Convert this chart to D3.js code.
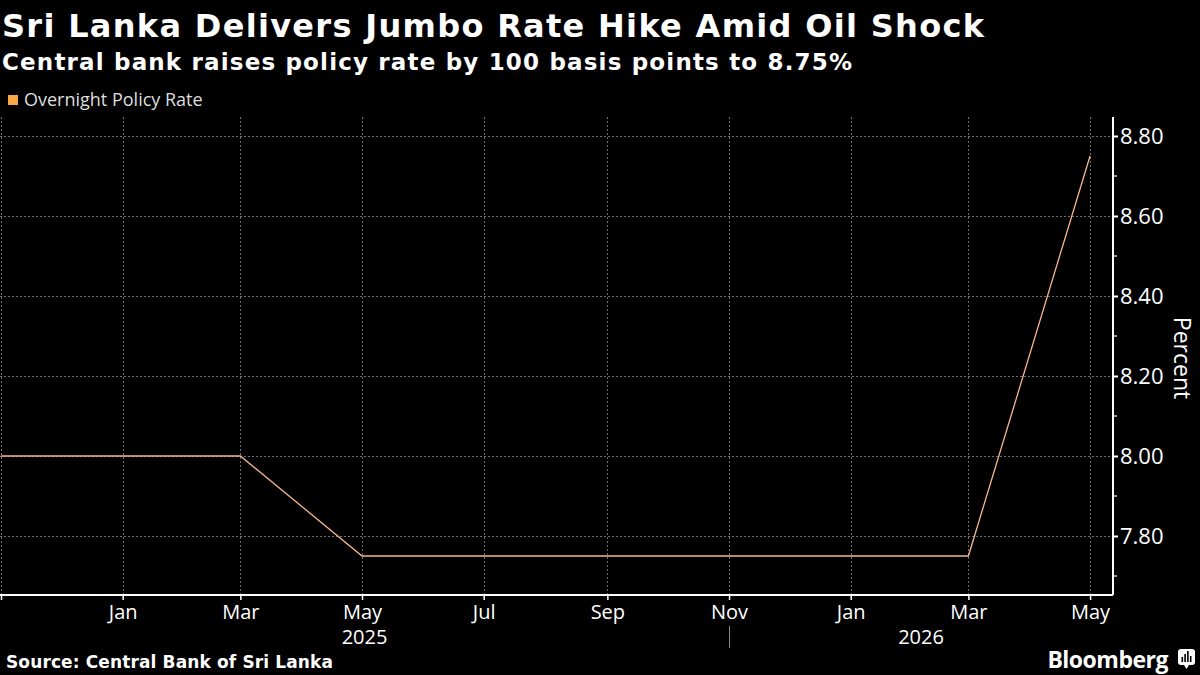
<!DOCTYPE html>
<html>
<head>
<meta charset="utf-8">
<script src="https://cdn.jsdelivr.net/npm/d3@7"></script>
<style>
  body { margin: 0; background: #000; }
  svg { display: block; }
</style>
</head>
<body>
<div id="chart"></div>
<script>
// data
const dates = ["2024-11-01", "2025-01-01", "2025-03-01", "2025-05-01", "2025-07-01",
  "2025-09-01", "2025-11-01", "2026-01-01", "2026-03-01", "2026-05-01"]
const rate = [8.00, 8.00, 8.00, 7.75, 7.75, 7.75, 7.75, 7.75, 7.75, 8.75]
const yMajor = [7.80, 8.00, 8.20, 8.40, 8.60, 8.80]
const yMinor = [7.70, 7.90, 8.10, 8.30, 8.50, 8.70]
const monthTicks = ["2024-11-01", "2025-01-01", "2025-03-01", "2025-05-01", "2025-07-01",
  "2025-09-01", "2025-11-01", "2026-01-01", "2026-03-01", "2026-05-01"]
const years = ["2025", "2026"]
const yearBreak = "2025-11-01"

const W = 1200, H = 675
const pLeft = 1, pRight = 1113, pTop = 117, pBottom = 595
const parse = d3.timeParse("%Y-%m-%d")
const font = "'Open Sans', 'Noto Sans', sans-serif"
const boldFont = "'DejaVu Sans', 'Open Sans', sans-serif"

let svg = d3.select("#chart").append("svg")
  .attr("width", W).attr("height", H)
  .style("background", "#000")

let x = d3.scaleTime()
  .domain([parse("2024-11-01"), new Date(2026, 4, 12, 12)])
  .range([pLeft, pRight])

let y = d3.scaleLinear()
  .domain([7.6525, 8.8475])
  .range([pBottom, pTop])

// grid
let grid = svg.append("g")
  .attr("stroke", "#707070").attr("stroke-width", 1).attr("stroke-dasharray", "2,2")
grid.selectAll(".gy").data(yMajor).enter().append("line")
  .attr("x1", 0).attr("x2", pRight)
  .attr("y1", d => Math.round(y(d)) + 0.5).attr("y2", d => Math.round(y(d)) + 0.5)
grid.selectAll(".gx").data(monthTicks.map(parse)).enter().append("line")
  .attr("y1", pTop).attr("y2", pBottom)
  .attr("x1", d => Math.round(x(d)) + 0.5).attr("x2", d => Math.round(x(d)) + 0.5)

// line
let line = d3.line()
  .x((d, i) => x(parse(dates[i])))
  .y(d => y(d))

svg.append("path")
  .datum(rate)
  .attr("d", line)
  .attr("fill", "none")
  .attr("stroke", "#f6b78e")
  .attr("stroke-width", 1.3)

// x axis
let xAxis = d3.axisBottom(x)
  .tickValues(monthTicks.map(parse))
  .tickSize(5)
  .tickFormat((d, i) => i == 0 ? "" : d3.timeFormat("%b")(d))

let gx = svg.append("g")
  .attr("transform", "translate(0," + pBottom + ")")
  .call(xAxis)
gx.select(".domain").attr("d", "M0,0H" + pRight).attr("stroke", "#fff").attr("stroke-width", 2)
gx.selectAll(".tick line").attr("stroke", "#fff").attr("stroke-width", 1.5)
gx.selectAll(".tick text")
  .attr("fill", "#fff").attr("dy", 0).attr("y", 24)
  .style("font-family", font).style("font-size", "20px")

// year labels and separator
let sep = x(parse(yearBreak))
svg.append("line")
  .attr("x1", sep + 0.5).attr("x2", sep + 0.5)
  .attr("y1", 626).attr("y2", 648)
  .attr("stroke", "#888").attr("stroke-width", 1)
let yearCenters = [(0 + sep) / 2, (sep + pRight) / 2]
svg.selectAll(".year").data(years).enter().append("text")
  .attr("x", (d, i) => yearCenters[i])
  .attr("y", 644)
  .attr("text-anchor", "middle")
  .attr("fill", "#fff")
  .style("font-family", font).style("font-size", "20px")
  .text(d => d)

// y axis
let yAxis = d3.axisRight(y)
  .tickValues(yMajor)
  .tickSize(5)
  .tickFormat(d3.format(".2f"))

let gy = svg.append("g")
  .attr("transform", "translate(" + pRight + ",0)")
  .call(yAxis)
gy.select(".domain").attr("d", "M0," + pTop + "V" + pBottom).attr("stroke", "#fff").attr("stroke-width", 2)
gy.selectAll(".tick line").attr("stroke", "#fff").attr("stroke-width", 2)
gy.selectAll(".tick text")
  .attr("fill", "#fff").attr("x", 7)
  .style("font-family", font).style("font-size", "22px")

gy.selectAll(".minor").data(yMinor).enter().append("line")
  .attr("x1", 0).attr("x2", 4)
  .attr("y1", d => y(d)).attr("y2", d => y(d))
  .attr("stroke", "#fff").attr("stroke-width", 1.2)

svg.append("text")
  .attr("transform", "translate(1174,358) rotate(90)")
  .attr("text-anchor", "middle")
  .attr("fill", "#fff")
  .style("font-family", font).style("font-size", "23px")
  .text("Percent")

// titles
svg.append("text")
  .attr("x", 2).attr("y", 37)
  .attr("fill", "#fff")
  .attr("textLength", 982).attr("lengthAdjust", "spacing")
  .style("font-family", boldFont).style("font-weight", "bold").style("font-size", "32px")
  .text("Sri Lanka Delivers Jumbo Rate Hike Amid Oil Shock")

svg.append("text")
  .attr("x", 2).attr("y", 70)
  .attr("fill", "#fff")
  .attr("textLength", 850).attr("lengthAdjust", "spacing")
  .style("font-family", boldFont).style("font-weight", "bold").style("font-size", "23px")
  .text("Central bank raises policy rate by 100 basis points to 8.75%")

// legend
svg.append("rect")
  .attr("x", 8).attr("y", 95).attr("width", 10).attr("height", 10)
  .attr("fill", "#f7a748")
svg.append("text")
  .attr("x", 24).attr("y", 106)
  .attr("fill", "#ddd")
  .style("font-family", font).style("font-size", "18px")
  .text("Overnight Policy Rate")

// footer
svg.append("text")
  .attr("x", 6).attr("y", 668)
  .attr("fill", "#fff")
  .attr("textLength", 327).attr("lengthAdjust", "spacing")
  .style("font-family", boldFont).style("font-weight", "bold").style("font-size", "17px")
  .text("Source: Central Bank of Sri Lanka")

svg.append("text")
  .attr("x", 1168).attr("y", 668)
  .attr("text-anchor", "end")
  .attr("fill", "#fff")
  .style("font-family", font).style("font-weight", "bold").style("font-size", "23px")
  .style("letter-spacing", "-0.5px")
  .text("Bloomberg")

let logo = svg.append("g").attr("transform", "translate(1178,649)")
logo.append("rect").attr("width", 17).attr("height", 16).attr("rx", 3).attr("fill", "#fff")
logo.append("path").attr("d", "M6,16L8.5,20L11,16Z").attr("fill", "#fff")
logo.selectAll(".bar").data([5, 8, 11, 6]).enter().append("rect")
  .attr("x", (d, i) => 3.5 + i * 2.8).attr("y", d => 13 - d)
  .attr("width", 1.6).attr("height", d => d)
  .attr("fill", "#000")
</script>
</body>
</html>
